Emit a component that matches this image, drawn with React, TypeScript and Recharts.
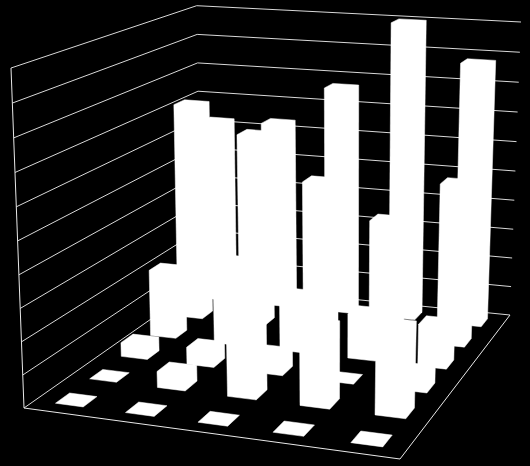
import React from "react";
import { ScatterChart, Scatter, XAxis, YAxis } from "recharts";

const series1 = [0, 0, 0.45, 2.2, 7.25, 6.25];
const series2 = [0, 0.5, 0.55, 2.7, 6.4, 6.35];
const series3 = [0, 2.2, 0.6, 1.8, 5, 7.7];
const series4 = [0, 2.4, 0, 1.45, 3.9, 10];
const series5 = [0, 2.65, 0.55, 1.35, 5.3, 8.8];
const allSeries = [series1, series2, series3, series4, series5];
const gridLevels = [0, 1, 2, 3, 4, 5, 6, 7, 8, 9, 10];
const MAX_VALUE = 10;

type P = { x: number; y: number };
const floorQuad: P[] = [{ x: 24, y: 408 }, { x: 400, y: 459 }, { x: 510, y: 315 }, { x: 201, y: 284 }];
const ceilQuad: P[] = [{ x: 11, y: 68 }, { x: 408, y: 99 }, { x: 521, y: 22 }, { x: 196.7, y: 5.7 }];

function homography([A, B, C, D]: P[]) {
  const dx1 = B.x - C.x, dx2 = D.x - C.x, sx = A.x - B.x + C.x - D.x;
  const dy1 = B.y - C.y, dy2 = D.y - C.y, sy = A.y - B.y + C.y - D.y;
  const den = dx1 * dy2 - dx2 * dy1;
  const g = (sx * dy2 - dx2 * sy) / den;
  const h = (dx1 * sy - sx * dy1) / den;
  const a = B.x - A.x + g * B.x, b = D.x - A.x + h * D.x;
  const d = B.y - A.y + g * B.y, e = D.y - A.y + h * D.y;
  return (u: number, v: number): P => {
    const w = g * u + h * v + 1;
    return { x: (a * u + b * v + A.x) / w, y: (d * u + e * v + A.y) / w };
  };
}
const floorAt = homography(floorQuad);
const ceilAt = homography(ceilQuad);
function project(u: number, v: number, value: number): P {
  const t = value / MAX_VALUE;
  const k = t / (t + (1 - t) * 1.035);
  const f = floorAt(u, v);
  const c = ceilAt(u, v);
  return { x: f.x + (c.x - f.x) * k, y: f.y + (c.y - f.y) * k };
}

type D = { dx: number; dy: number };
function hull(points: D[]): D[] {
  const pts = [...points].sort((a, b) => a.dx - b.dx || a.dy - b.dy);
  const cross = (o: D, a: D, b: D) => (a.dx - o.dx) * (b.dy - o.dy) - (a.dy - o.dy) * (b.dx - o.dx);
  const half = (list: D[]) => {
    const out: D[] = [];
    for (const p of list) {
      while (out.length >= 2 && cross(out[out.length - 2], out[out.length - 1], p) <= 0) out.pop();
      out.push(p);
    }
    out.pop();
    return out;
  };
  return [...half(pts), ...half([...pts].reverse())];
}

const HU = 0.04;
const HV = 0.034;
const BACK_SHIFT = 0.006;
const barData = allSeries
  .flatMap((vals, c) =>
    vals.map((value, r) => {
      const v = (r + 0.5) / 6;
      const u = (c + 0.5) / 5 + BACK_SHIFT * v;
      const anchor = project(u, v, value);
      const corner = (su: number, sv: number, val: number): D => {
        const p = project(u + su * HU, v + sv * HV, val);
        return { dx: p.x - anchor.x, dy: p.y - anchor.y };
      };
      const signs = [[-1, -1], [1, -1], [1, 1], [-1, 1]];
      const outline = hull(signs.flatMap(([su, sv]) => [corner(su, sv, 0), corner(su, sv, value)]));
      return { x: anchor.x, y: anchor.y, r, c, outline };
    })
  )
  .sort((a, b) => b.r - a.r || a.c - b.c);

const wallLines = gridLevels.map((lvl) => [project(0, 0, lvl), project(0, 1, lvl), project(1, 1, lvl)]);
const frameLines = [
  [project(0, 0, 0), project(0, 0, MAX_VALUE)],
  [project(0, 0, 0), project(1, 0, 0), project(1, 1, 0)],
];

const noDot = () => <g />;
const BarShape = (props: any) => {
  const { cx, cy, payload } = props;
  return (
    <polygon
      points={payload.outline.map((q: D) => `${cx + q.dx},${cy + q.dy}`).join(" ")}
      fill="#ffffff"
      stroke="#ffffff"
      strokeWidth={0.5}
    />
  );
};

export default function App() {
  return (
    <div style={{ position: "absolute", left: 0, top: 0, width: 530, height: 466, background: "#000", overflow: "hidden" }}>
      <ScatterChart width={530} height={466} margin={{ top: 0, right: 0, bottom: 0, left: 0 }}>
        <XAxis type="number" dataKey="x" domain={[0, 530]} hide />
        <YAxis type="number" dataKey="y" domain={[0, 466]} reversed hide />
        {wallLines.map((d, i) => (
          <Scatter key={`w${i}`} data={d} line={{ stroke: "#d8d8d8", strokeWidth: 1 }} shape={noDot} isAnimationActive={false} />
        ))}
        {frameLines.map((d, i) => (
          <Scatter key={`f${i}`} data={d} line={{ stroke: "#e8e8e8", strokeWidth: 1 }} shape={noDot} isAnimationActive={false} />
        ))}
        <Scatter data={barData} shape={BarShape} isAnimationActive={false} />
      </ScatterChart>
    </div>
  );
}
